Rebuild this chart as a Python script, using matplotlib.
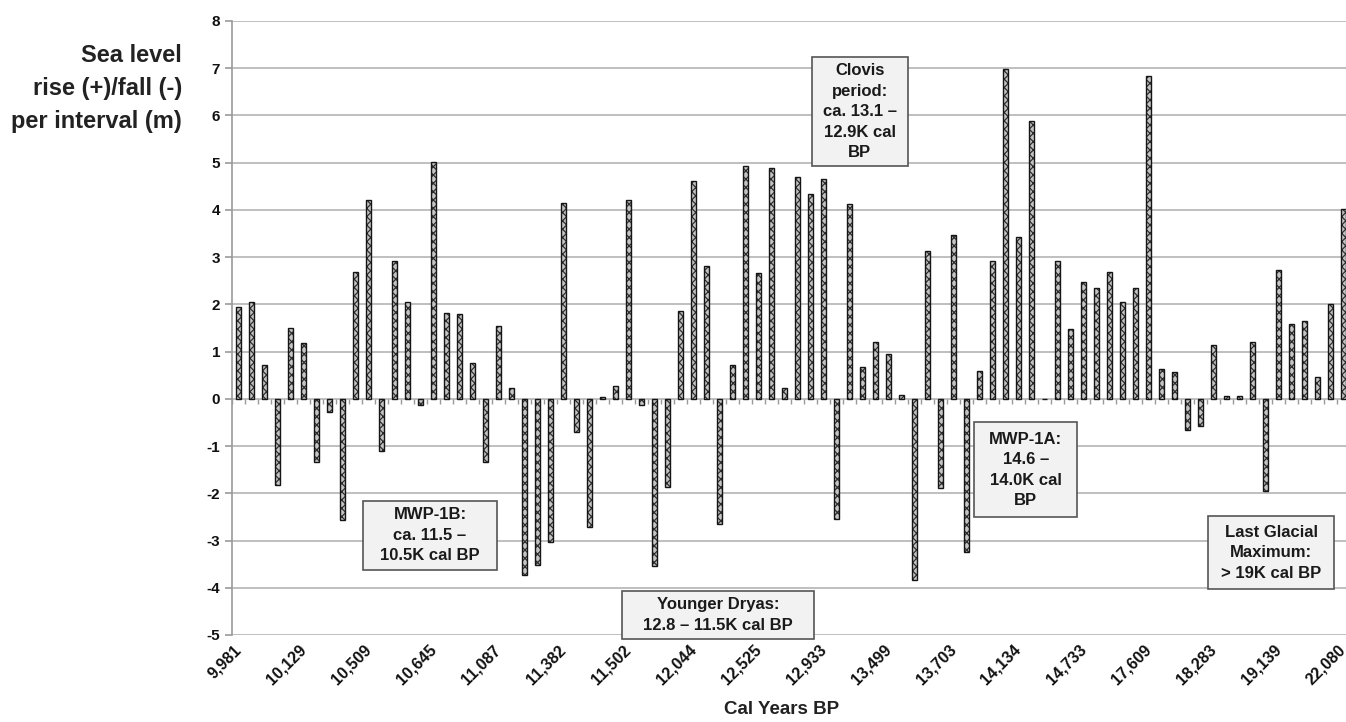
import matplotlib

matplotlib.use('Agg')
import matplotlib.pyplot as plt
import numpy as np
from matplotlib.patches import Rectangle

plt.rcParams['font.family'] = ['Liberation Sans', 'DejaVu Sans']
plt.rcParams['font.weight'] = 'bold'
plt.rcParams['axes.unicode_minus'] = False
plt.rcParams['hatch.linewidth'] = 0.9

# sea level change per interval (m), one value per dated interval
sea_level_change = [
    1.94, 2.06, 0.71, -1.82, 1.50, 1.19, -1.33, -0.28, -2.56, 2.68,
    4.20, -1.10, 2.92, 2.06, -0.14, 5.02, 1.81, 1.79, 0.75, -1.33,
    1.54, 0.22, -3.72, -3.51, -3.04, 4.15, -0.71, -2.71, 0.04, 0.28,
    4.21, -0.13, -3.54, -1.87, 1.87, 4.62, 2.81, -2.64, 0.71, 4.93,
    2.66, 4.89, 0.23, 4.70, 4.33, 4.66, -2.55, 4.12, 0.68, 1.21,
    0.95, 0.09, -3.83, 3.12, -1.89, 3.47, -3.25, 0.60, 2.92, 6.98,
    3.43, 5.88, 0.0, 2.92, 1.48, 2.48, 2.34, 2.68, 2.06, 2.34,
    6.83, 0.64, 0.57, -0.66, -0.57, 1.14, 0.07, 0.07, 1.20, -1.95,
    2.73, 1.59, 1.65, 0.46, 2.01, 4.01,
]

# every fifth interval is labelled on the category axis
year_labels = ['9,981', '10,129', '10,509', '10,645', '11,087', '11,382',
               '11,502', '12,044', '12,525', '12,933', '13,499', '13,703',
               '14,134', '14,733', '17,609', '18,283', '19,139', '22,080']
label_step = 5

# text boxes: (text, x0, x1, y0, y1) in category / metre units
notes = [
    ('MWP-1B:\nca. 11.5 \u2013\n10.5K cal BP', 9.58, 19.88, -3.62, -2.16),
    ('Younger Dryas:\n12.8 \u2013 11.5K cal BP', 29.5, 44.27, -5.08, -4.07),
    ('Clovis\nperiod:\nca. 13.1 \u2013\n12.9K cal\nBP', 44.1, 51.5, 4.92, 7.24),
    ('MWP-1A:\n14.6 \u2013\n14.0K cal\nBP', 56.6, 64.5, -2.51, -0.5),
    ('Last Glacial\nMaximum:\n> 19K cal BP', 74.6, 84.3, -4.03, -2.49),
]

fig = plt.figure(figsize=(13.46, 7.22), dpi=100)
ax = fig.add_axes([232 / 1346, 87 / 722, 1114 / 1346, 614 / 722])

x = np.arange(len(sea_level_change))
ax.bar(x, sea_level_change, width=0.45, color='#c4c4c4', edgecolor='#2e2e2e',
       hatch='xxxx', linewidth=0, zorder=2)
ax.bar(x, sea_level_change, width=0.45, facecolor='none', edgecolor='#151515',
       linewidth=1.0, zorder=3)

ax.set_xlim(-0.5, 85.19)
ax.set_ylim(-5, 8)
ax.set_yticks(np.arange(-5, 9))
ax.yaxis.grid(True, color='#b4b4b4', linewidth=1.2)
ax.set_axisbelow(True)
for side in ['top', 'right', 'bottom']:
    ax.spines[side].set_visible(False)
ax.spines['left'].set_color('#9a9a9a')
ax.spines['left'].set_linewidth(1.2)
ax.tick_params(axis='y', length=5, width=1.2, color='#9a9a9a', labelsize=11,
               pad=3.5, labelcolor='#111111')

# small category tick marks hanging from the zero line
bounds = np.arange(len(sea_level_change) + 1) - 0.5
ax.vlines(bounds, -0.1, 0, color='#9a9a9a', linewidth=1.0, zorder=1)

ax.set_xticks(x[::label_step][:len(year_labels)])
ax.set_xticklabels(year_labels, rotation=45, ha='right', va='center',
                   rotation_mode='anchor', fontsize=11.5, color='#111111')
ax.tick_params(axis='x', length=0, pad=9)

for text, x0, x1, y0, y1 in notes:
    ax.add_patch(Rectangle((x0, y0), x1 - x0, y1 - y0, facecolor='#f2f2f2',
                           edgecolor='#555555', linewidth=1.2, zorder=4,
                           clip_on=False))
    ax.text((x0 + x1) / 2, (y0 + y1) / 2, text, ha='center', va='center',
            fontsize=12, linespacing=1.45, color='#1a1a1a', zorder=5,
            clip_on=False)

fig.text(182 / 1346, 1 - 44 / 722, 'Sea level\nrise (+)/fall (-)\nper interval (m)',
         ha='right', va='top', fontsize=17, linespacing=1.55, color='#222222')
fig.text(782 / 1346, 1 - 710 / 722, 'Cal Years BP', ha='center', va='center',
         fontsize=13.5, color='#222222')

fig.savefig('out.png', dpi=100)
